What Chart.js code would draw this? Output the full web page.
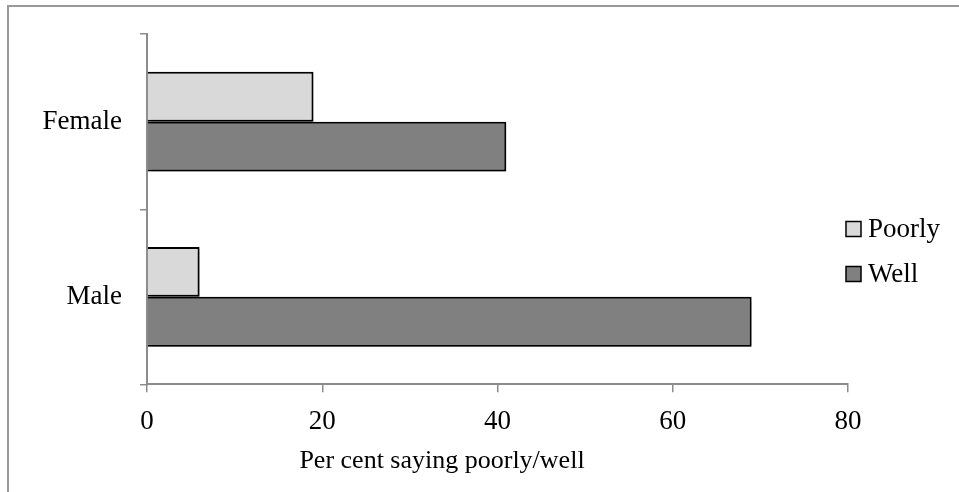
<!DOCTYPE html>
<html>
<head>
<meta charset="utf-8">
<script src="https://cdn.jsdelivr.net/npm/chart.js@4.4.1/dist/chart.umd.min.js"></script>
<style>
  html, body { margin: 0; padding: 0; background: #fff; overflow: hidden; }
  #wrap { width: 959px; height: 492px; }
</style>
</head>
<body>
<div id="wrap"><canvas id="genderChart" width="959" height="492"></canvas></div>
<script>
const categories = ['Female', 'Male'];
const poorlyValues = [19, 6];
const wellValues = [41, 69];
const xTicks = [0, 20, 40, 60, 80];
const xTitle = 'Per cent saying poorly/well';

const serif = "'Liberation Serif', 'Times New Roman', serif";
const axisGrey = '#8c8c8c';

// grey frame round the whole chart (only top and left edges are in view)
const frame = {
    id: 'frame',
    beforeDraw(chart) {
        const ctx = chart.ctx;
        ctx.save();
        ctx.strokeStyle = '#999';
        ctx.lineWidth = 2;
        ctx.beginPath();
        ctx.moveTo(8, 492);
        ctx.lineTo(8, 6);
        ctx.lineTo(959, 6);
        ctx.stroke();
        ctx.restore();
    }
};

const barShadow = {
    id: 'barShadow',
    beforeDatasetsDraw(chart) {
        const ctx = chart.ctx;
        ctx.save();
        ctx.shadowColor = 'rgba(0,0,0,0.35)';
        ctx.shadowBlur = 4;
        ctx.shadowOffsetX = 2;
        ctx.shadowOffsetY = 2;
    },
    afterDatasetsDraw(chart) {
        chart.ctx.restore();
    }
};

// legend sits just right of the plot, a little overlapping its edge
const sideLegend = {
    id: 'sideLegend',
    afterDraw(chart) {
        const ctx = chart.ctx;
        const x = chart.chartArea.right - 2;
        let y = 229;
        ctx.save();
        ctx.font = '27px ' + serif;
        ctx.textBaseline = 'middle';
        chart.data.datasets.forEach(ds => {
            ctx.fillStyle = ds.backgroundColor;
            ctx.fillRect(x, y - 7.5, 15, 15);
            ctx.strokeStyle = '#000';
            ctx.lineWidth = 1.5;
            ctx.strokeRect(x, y - 7.5, 15, 15);
            ctx.fillStyle = '#000';
            ctx.fillText(ds.label, x + 22, y + 1);
            y += 45;
        });
        ctx.restore();
    }
};

const ctx = document.getElementById('genderChart').getContext('2d');
new Chart(ctx, {
    type: 'bar',
    data: {
        labels: categories,
        datasets: [
            {
                label: 'Poorly',
                data: poorlyValues,
                backgroundColor: '#d9d9d9',
                borderColor: '#000',
                borderWidth: 2,
                barPercentage: 1,
                categoryPercentage: 0.57
            },
            {
                label: 'Well',
                data: wellValues,
                backgroundColor: '#808080',
                borderColor: '#000',
                borderWidth: 2,
                barPercentage: 1,
                categoryPercentage: 0.57
            }
        ]
    },
    options: {
        indexAxis: 'y',
        responsive: false,
        animation: false,
        layout: {
            padding: { left: 36, right: 111, top: 33, bottom: 0 }
        },
        plugins: {
            legend: { display: false },
            tooltip: { enabled: false },
            title: {
                display: true,
                position: 'bottom',
                text: xTitle,
                color: '#000',
                font: { family: serif, size: 26, weight: 'normal' },
                padding: { top: 0, bottom: 15 }
            }
        },
        scales: {
            x: {
                min: 0,
                max: 80,
                afterBuildTicks: scale => {
                    scale.ticks = xTicks.map(v => ({ value: v }));
                },
                afterFit: scale => {
                    scale.height = 61.5;
                },
                grid: {
                    drawOnChartArea: false,
                    tickLength: 8,
                    color: axisGrey,
                    lineWidth: 1.5
                },
                border: { color: axisGrey, width: 2 },
                ticks: {
                    color: '#000',
                    padding: 13,
                    font: { family: serif, size: 27 }
                }
            },
            y: {
                afterFit: scale => {
                    scale.width = 111;
                },
                grid: {
                    offset: true,
                    drawOnChartArea: false,
                    tickLength: 7,
                    color: axisGrey,
                    lineWidth: 1.5
                },
                border: { color: axisGrey, width: 2 },
                ticks: {
                    color: '#000',
                    padding: 18,
                    font: { family: serif, size: 27 }
                }
            }
        }
    },
    plugins: [frame, barShadow, sideLegend]
});
</script>
</body>
</html>
